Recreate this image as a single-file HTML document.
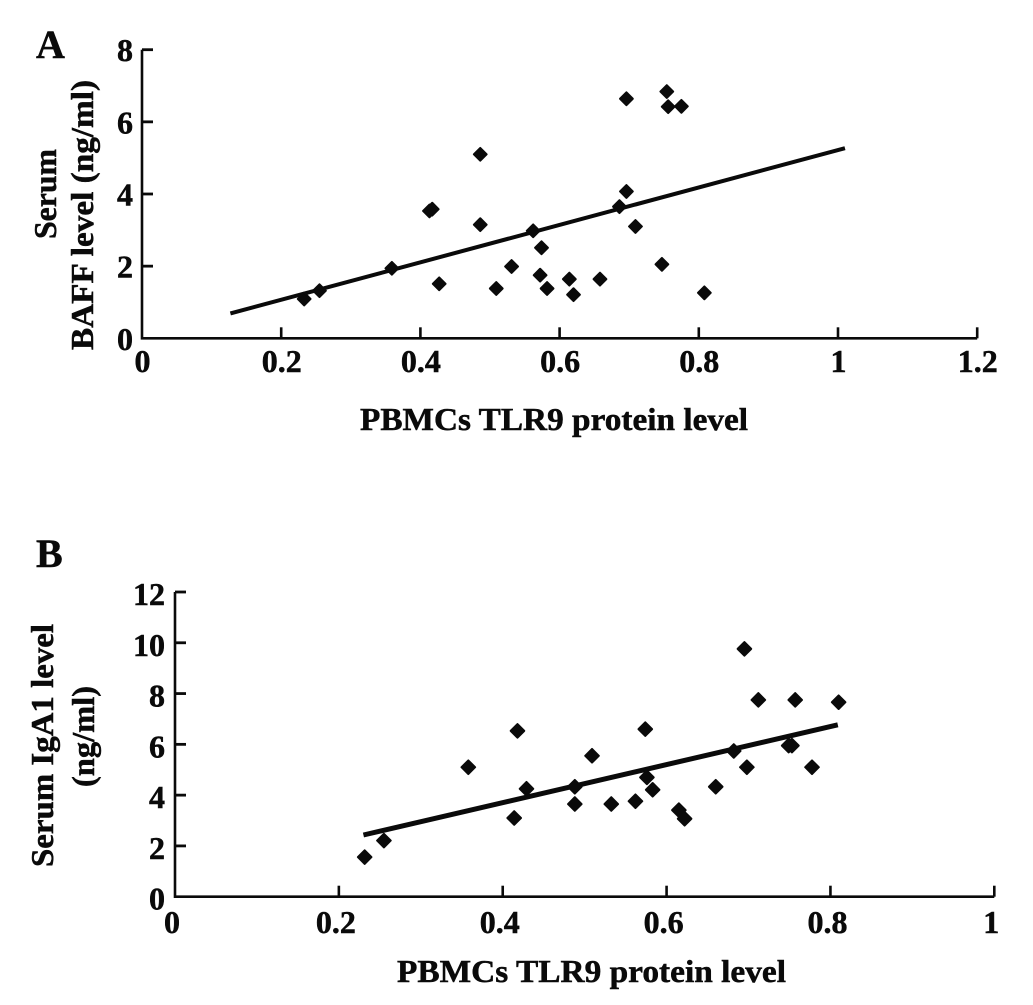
<!DOCTYPE html>
<html lang="en">
<head>
<meta charset="utf-8">
<title>Serum BAFF and IgA1 versus PBMCs TLR9 protein level</title>
<style>
html,body{margin:0;padding:0;background:#fff;width:1033px;height:1005px;overflow:hidden}
svg{display:block}
text{font-family:"Liberation Serif",serif;font-weight:bold;fill:#0a0a0a;stroke:#0a0a0a;stroke-width:0.5px}
</style>
</head>
<body>
<svg id="figure" xmlns="http://www.w3.org/2000/svg" width="1033" height="1005" viewBox="0 0 1033 1005">
  <g id="chart-a"></g>
  <g id="chart-b"></g>
  <text x="36" y="58" font-size="40">A</text>
  <text x="36" y="567" font-size="40">B</text>
  <text x="360" y="430" font-size="32" textLength="388" lengthAdjust="spacingAndGlyphs">PBMCs TLR9 protein level</text>
  <text transform="translate(56 239) rotate(-90)" font-size="32" textLength="90" lengthAdjust="spacingAndGlyphs">Serum</text>
  <text transform="translate(93 350) rotate(-90)" font-size="32" textLength="270" lengthAdjust="spacingAndGlyphs">BAFF level (ng/ml)</text>
  <text x="397" y="982" font-size="32" textLength="389" lengthAdjust="spacingAndGlyphs">PBMCs TLR9 protein level</text>
  <text transform="translate(53 867) rotate(-90)" font-size="32" textLength="243" lengthAdjust="spacingAndGlyphs">Serum IgA1 level</text>
  <text transform="translate(94 787) rotate(-90)" font-size="32" textLength="101" lengthAdjust="spacingAndGlyphs">(ng/ml)</text>
</svg>
<script>
var aXTicks = [0, 0.2, 0.4, 0.6, 0.8, 1, 1.2];
var aXTickLabels = ['0', '0.2', '0.4', '0.6', '0.8', '1', '1.2'];
var aYTicks = [0, 2, 4, 6, 8];
var aYTickLabels = ['0', '2', '4', '6', '8'];
var aPointsX = [0.233, 0.255, 0.359, 0.413, 0.417, 0.427, 0.486, 0.486, 0.509, 0.531, 0.562, 0.574, 0.572, 0.582, 0.614, 0.620, 0.658, 0.686, 0.696, 0.696, 0.709, 0.747, 0.754, 0.756, 0.775, 0.808];
var aPointsY = [1.09, 1.32, 1.94, 3.53, 3.58, 1.51, 5.10, 3.15, 1.38, 1.99, 2.98, 2.51, 1.75, 1.38, 1.64, 1.21, 1.64, 3.65, 4.07, 6.64, 3.10, 2.05, 6.84, 6.42, 6.43, 1.26];
var aTrendX = [0.127, 1.010];
var aTrendY = [0.69, 5.27];

var bXTicks = [0, 0.2, 0.4, 0.6, 0.8, 1];
var bXTickLabels = ['0', '0.2', '0.4', '0.6', '0.8', '1'];
var bYTicks = [0, 2, 4, 6, 8, 10, 12];
var bYTickLabels = ['0', '2', '4', '6', '8', '10', '12'];
var bPointsX = [0.2315, 0.255, 0.358, 0.414, 0.418, 0.429, 0.488, 0.488, 0.509, 0.5325, 0.562, 0.574, 0.576, 0.583, 0.615, 0.622, 0.660, 0.682, 0.695, 0.698, 0.712, 0.749, 0.753, 0.757, 0.7775, 0.810];
var bPointsY = [1.56, 2.21, 5.10, 3.10, 6.53, 4.25, 4.33, 3.65, 5.55, 3.65, 3.76, 6.60, 4.70, 4.21, 3.41, 3.07, 4.33, 5.74, 9.76, 5.10, 7.75, 5.95, 5.95, 7.75, 5.10, 7.66];
var bTrendX = [0.230, 0.809];
var bTrendY = [2.43, 6.77];

var SVG_NS = 'http://www.w3.org/2000/svg';

function make(tag, parent) {
  var node = document.createElementNS(SVG_NS, tag);
  parent.appendChild(node);
  return node;
}

function drawChart(cfg) {
  var root = document.getElementById(cfg.id);
  var xMax = cfg.xTicks[cfg.xTicks.length - 1];
  var yMax = cfg.yTicks[cfg.yTicks.length - 1];
  function sx(v) { return cfg.x0 + (cfg.x1 - cfg.x0) * v / xMax; }
  function sy(v) { return cfg.y0 + (cfg.y1 - cfg.y0) * v / yMax; }

  var axes = make('path', root);
  
  
  axes.setAttribute('d', 'M' + sx(0) + ' ' + sy(yMax) + 'V' + sy(0) + 'H' + sx(xMax));
  axes.setAttribute('fill', 'none');
  axes.setAttribute('stroke', '#0a0a0a');
  axes.setAttribute('stroke-width', '2.6');

  cfg.xTicks.forEach(function (t, i) {
    if (i > 0) {
      var tick = make('line', root);
      
      
      tick.setAttribute('x1', sx(t));
      tick.setAttribute('x2', sx(t));
      tick.setAttribute('y1', sy(0));
      tick.setAttribute('y2', sy(0) - 11);
      tick.setAttribute('stroke', '#0a0a0a');
      tick.setAttribute('stroke-width', '2.6');
    }
    var label = make('text', root);
    
    
    label.setAttribute('x', sx(t) + cfg.xLabelShift);
    label.setAttribute('y', cfg.xLabelY);
    label.setAttribute('font-size', '32');
    label.setAttribute('text-anchor', 'middle');
    label.textContent = cfg.xLabels[i];
  });

  cfg.yTicks.forEach(function (t, i) {
    if (i > 0) {
      var tick = make('line', root);
      
      
      tick.setAttribute('x1', sx(0));
      tick.setAttribute('x2', sx(0) + 11);
      tick.setAttribute('y1', sy(t));
      tick.setAttribute('y2', sy(t));
      tick.setAttribute('stroke', '#0a0a0a');
      tick.setAttribute('stroke-width', '2.8');
    }
    var label = make('text', root);
    
    
    label.setAttribute('x', cfg.yLabelX);
    label.setAttribute('y', sy(t) + cfg.yLabelDy);
    label.setAttribute('font-size', '32');
    label.setAttribute('text-anchor', 'end');
    label.textContent = cfg.yLabels[i];
  });

  var trend = make('line', root);
  
  
  trend.setAttribute('x1', sx(cfg.trendX[0]));
  trend.setAttribute('y1', sy(cfg.trendY[0]));
  trend.setAttribute('x2', sx(cfg.trendX[1]));
  trend.setAttribute('y2', sy(cfg.trendY[1]));
  trend.setAttribute('stroke', '#0a0a0a');
  trend.setAttribute('stroke-width', cfg.trendWidth);

  cfg.pointsX.forEach(function (v, i) {
    var cx = sx(v);
    var cy = sy(cfg.pointsY[i]);
    var r = cfg.pointRadius;
    var point = make('polygon', root);
    
    
    point.setAttribute('points', cx + ',' + (cy - r) + ' ' + (cx + r) + ',' + cy + ' ' + cx + ',' + (cy + r) + ' ' + (cx - r) + ',' + cy);
    point.setAttribute('fill', '#0a0a0a');
    point.setAttribute('stroke', '#0a0a0a');
    point.setAttribute('stroke-width', '2');
    point.setAttribute('stroke-linejoin', 'round');
  });
}

drawChart({
  id: 'chart-a',
  xTicks: aXTicks, xLabels: aXTickLabels,
  yTicks: aYTicks, yLabels: aYTickLabels,
  pointsX: aPointsX, pointsY: aPointsY,
  trendX: aTrendX, trendY: aTrendY,
  x0: 142, x1: 977.2, y0: 338.3, y1: 49.7,
  xLabelY: 372, xLabelShift: 0.5, yLabelX: 133, yLabelDy: 11.5,
  trendWidth: 4, pointRadius: 6.4
});

drawChart({
  id: 'chart-b',
  xTicks: bXTicks, xLabels: bXTickLabels,
  yTicks: bYTicks, yLabels: bYTickLabels,
  pointsX: bPointsX, pointsY: bPointsY,
  trendX: bTrendX, trendY: bTrendY,
  x0: 175, x1: 994.3, y0: 896.7, y1: 592,
  xLabelY: 933, xLabelShift: -3, yLabelX: 165, yLabelDy: 13,
  trendWidth: 5, pointRadius: 6.8
});
</script>
</body>
</html>
